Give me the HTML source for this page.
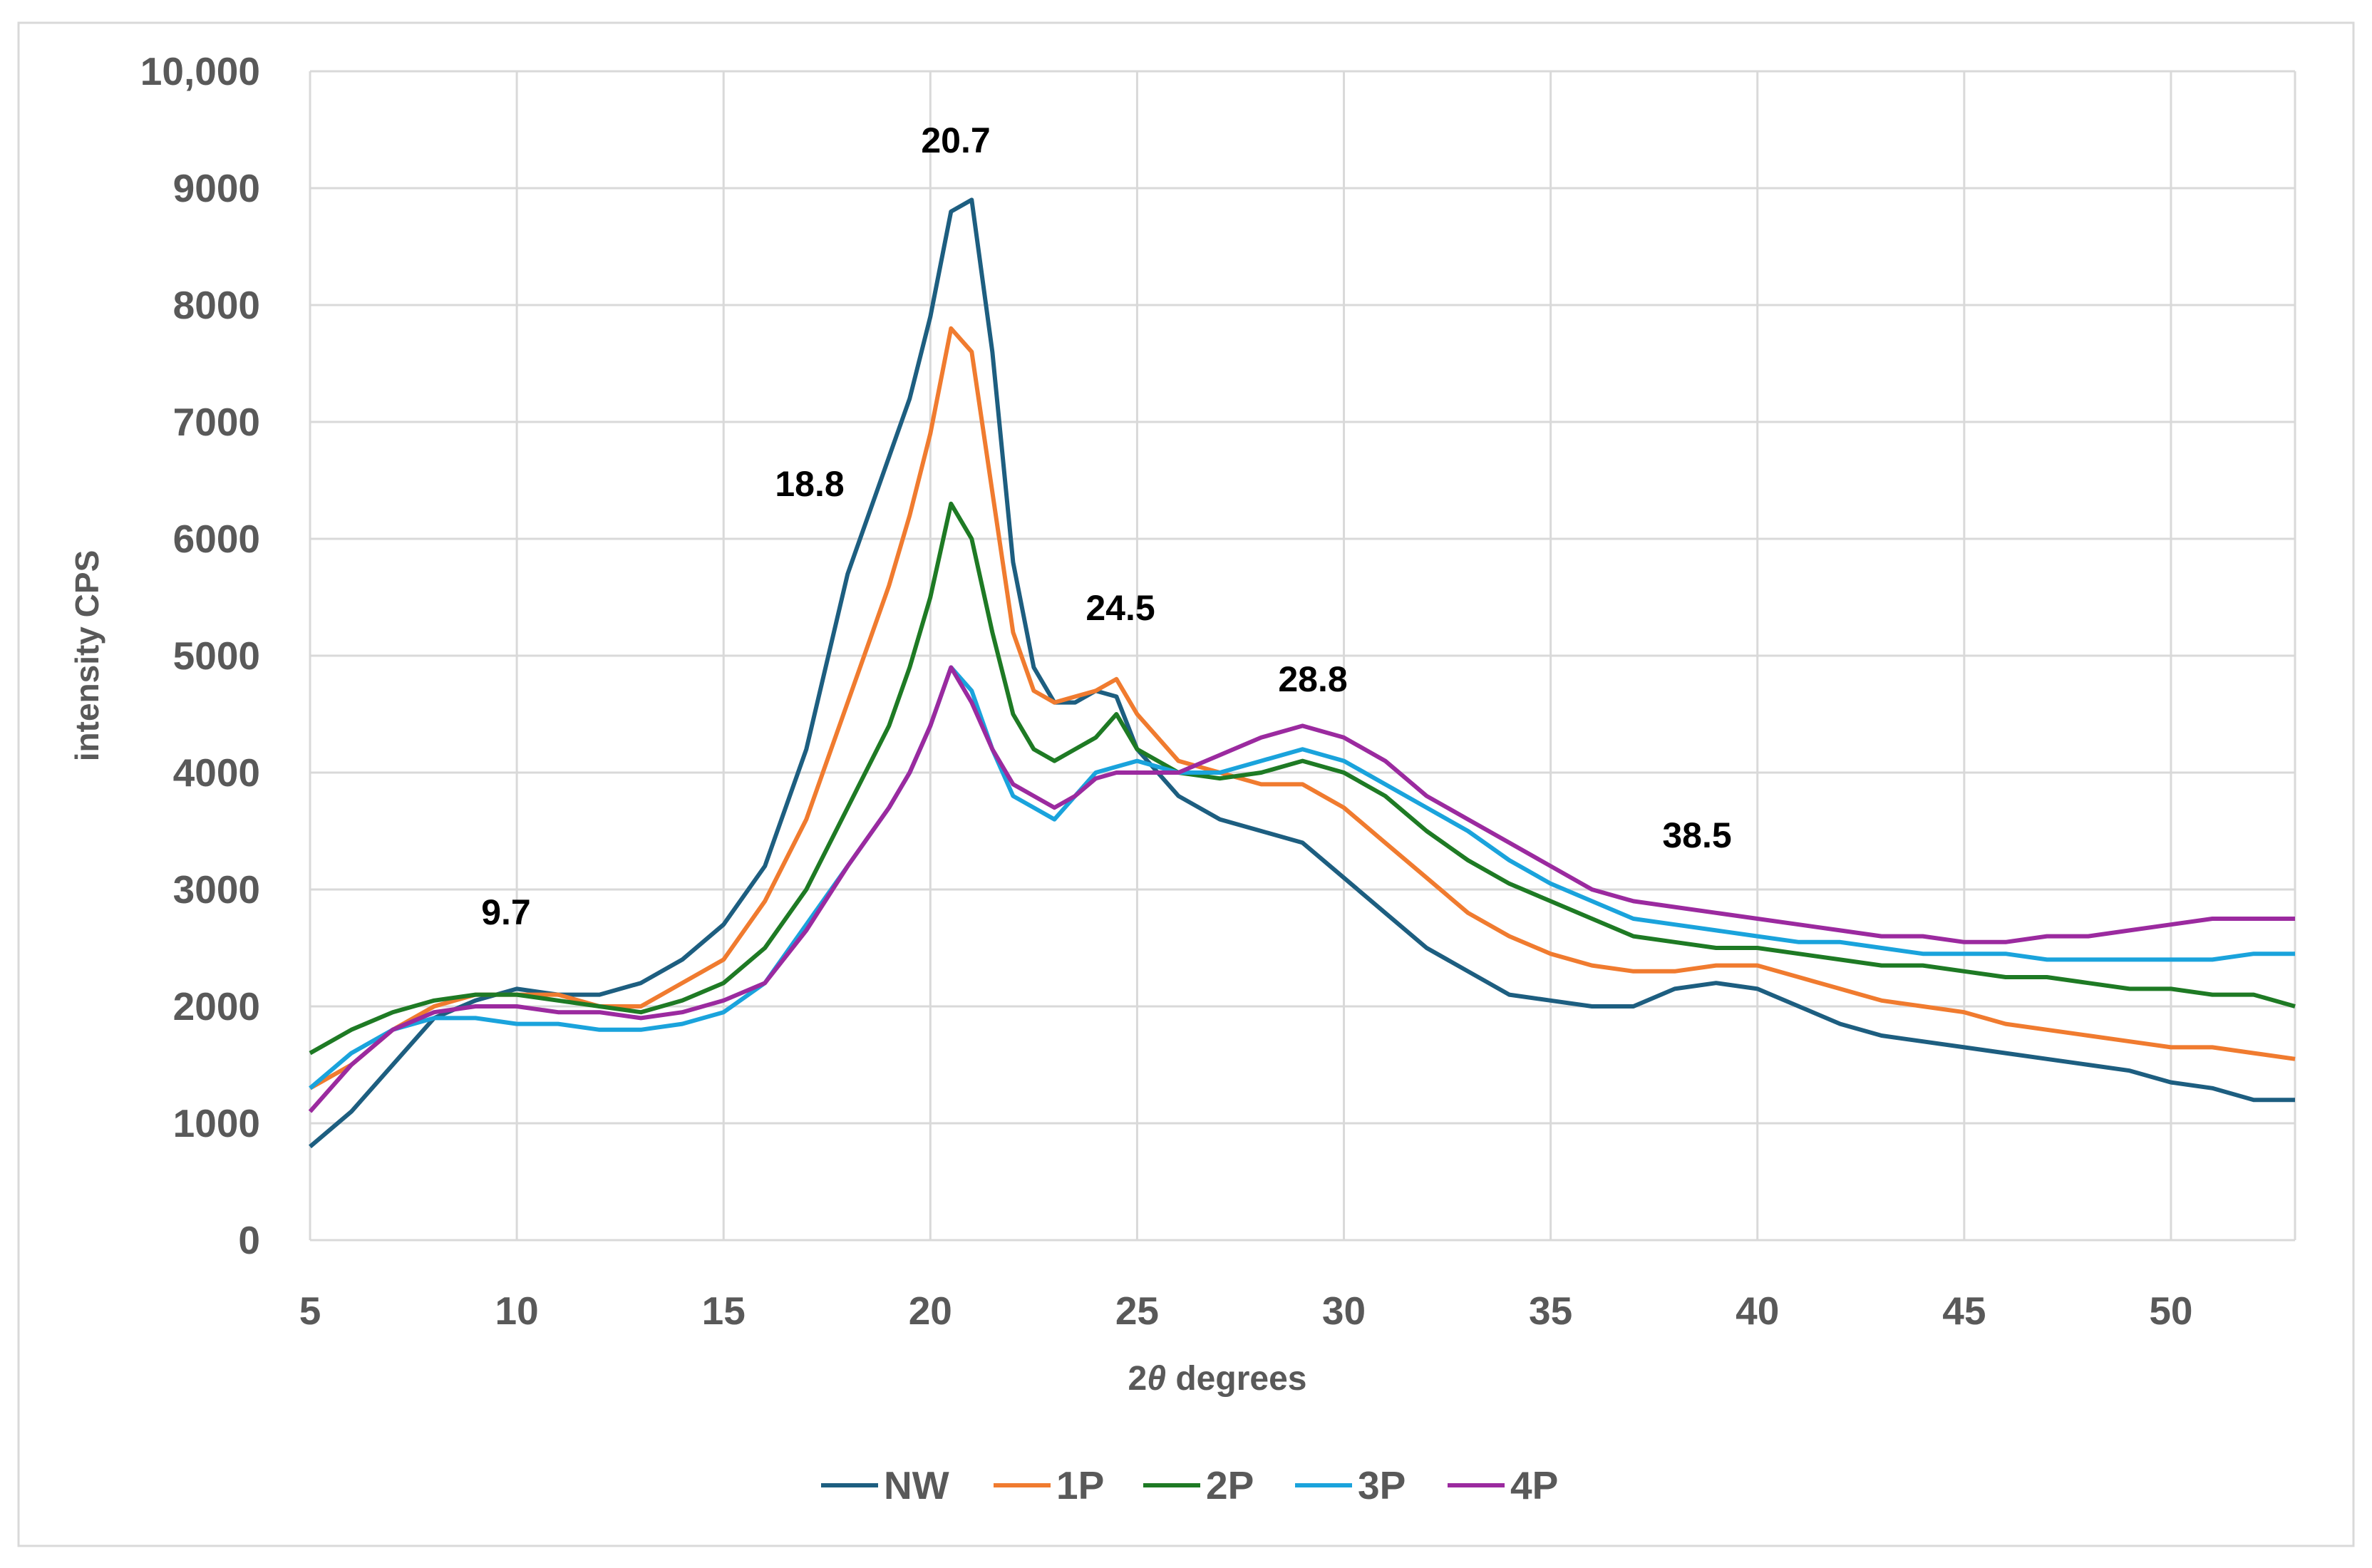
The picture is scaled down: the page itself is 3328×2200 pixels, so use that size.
<!DOCTYPE html>
<html><head><meta charset="utf-8">
<style>
html,body{margin:0;padding:0;background:#fff;}
svg{display:block;font-family:"Liberation Sans",sans-serif;}
</style></head>
<body>
<svg id="chart" width="3328" height="2200" viewBox="0 0 3328 2200" xmlns="http://www.w3.org/2000/svg">
<rect x="26" y="32" width="3276" height="2137" fill="#fff" stroke="#d9d9d9" stroke-width="3"/>
<g id="grid"></g>
<g id="series"></g>
<g id="ticks"></g>
<text x="1708" y="1950" font-size="48" font-weight="bold" fill="#595959" text-anchor="middle">2<tspan font-style="italic">θ</tspan> degrees</text>
<text transform="translate(138,920) rotate(-90)" font-size="46" font-weight="bold" fill="#595959" text-anchor="middle">intensity CPS</text>
<g font-size="50" font-weight="bold" fill="#000" text-anchor="middle">
<text x="1341" y="214">20.7</text>
<text x="1136" y="696">18.8</text>
<text x="1572" y="870">24.5</text>
<text x="1842" y="970">28.8</text>
<text x="710" y="1297">9.7</text>
<text x="2381" y="1189">38.5</text>
</g>
<g id="legend"></g>
</svg>
<script>
const xs = [5,6,7,8,9,10,11,12,13,14,15,16,17,18,19,19.5,20,20.5,21,21.5,22,22.5,23,23.5,24,24.5,25,26,27,28,29,30,31,32,33,34,35,36,37,38,39,40,41,42,43,44,45,46,47,48,49,50,51,52,53];
const seriesNames = ["NW","1P","2P","3P","4P"];
const seriesColors = ["#1d5e80","#f07b2f","#1e7a24","#1aa3dc","#9b2a9f"];
const nwValues = [800,1100,1500,1900,2050,2150,2100,2100,2200,2400,2700,3200,4200,5700,6700,7200,7900,8800,8900,7600,5800,4900,4600,4600,4700,4650,4200,3800,3600,3500,3400,3100,2800,2500,2300,2100,2050,2000,2000,2150,2200,2150,2000,1850,1750,1700,1650,1600,1550,1500,1450,1350,1300,1200,1200];
const p1Values = [1300,1500,1800,2000,2100,2100,2100,2000,2000,2200,2400,2900,3600,4600,5600,6200,6900,7800,7600,6400,5200,4700,4600,4650,4700,4800,4500,4100,4000,3900,3900,3700,3400,3100,2800,2600,2450,2350,2300,2300,2350,2350,2250,2150,2050,2000,1950,1850,1800,1750,1700,1650,1650,1600,1550];
const p2Values = [1600,1800,1950,2050,2100,2100,2050,2000,1950,2050,2200,2500,3000,3700,4400,4900,5500,6300,6000,5200,4500,4200,4100,4200,4300,4500,4200,4000,3950,4000,4100,4000,3800,3500,3250,3050,2900,2750,2600,2550,2500,2500,2450,2400,2350,2350,2300,2250,2250,2200,2150,2150,2100,2100,2000];
const p3Values = [1300,1600,1800,1900,1900,1850,1850,1800,1800,1850,1950,2200,2700,3200,3700,4000,4400,4900,4700,4200,3800,3700,3600,3800,4000,4050,4100,4000,4000,4100,4200,4100,3900,3700,3500,3250,3050,2900,2750,2700,2650,2600,2550,2550,2500,2450,2450,2450,2400,2400,2400,2400,2400,2450,2450];
const p4Values = [1100,1500,1800,1950,2000,2000,1950,1950,1900,1950,2050,2200,2650,3200,3700,4000,4400,4900,4600,4200,3900,3800,3700,3800,3950,4000,4000,4000,4150,4300,4400,4300,4100,3800,3600,3400,3200,3000,2900,2850,2800,2750,2700,2650,2600,2600,2550,2550,2600,2600,2650,2700,2750,2750,2750];
const xTicks = [5,10,15,20,25,30,35,40,45,50];
const yTicks = [0,1000,2000,3000,4000,5000,6000,7000,8000,9000,10000];
const yTickLabels = ["0","1000","2000","3000","4000","5000","6000","7000","8000","9000","10,000"];

const NS="http://www.w3.org/2000/svg";
const L=435,R=3220,T=100,B=1740,XMIN=5,XMAX=53,YMAX=10000;
function sx(v){return L+(v-XMIN)/(XMAX-XMIN)*(R-L);}
function sy(v){return B-v/YMAX*(B-T);}
function mk(tag,attrs,parent){const e=document.createElementNS(NS,tag);for(const k in attrs)e.setAttribute(k,attrs[k]);parent.appendChild(e);return e;}
const grid=document.getElementById('grid'),ticks=document.getElementById('ticks'),sg=document.getElementById('series'),lg=document.getElementById('legend');
yTicks.forEach((v,i)=>{
  const ln=mk('line',{x1:L,x2:R,y1:sy(v),y2:sy(v),stroke:'#d9d9d9','stroke-width':3},grid);
  
  
  const t=mk('text',{x:365,y:sy(v)+19,'font-size':55,'font-weight':'bold',fill:'#595959','text-anchor':'end'},ticks);
  t.textContent=yTickLabels[i];
  
  
});
xTicks.forEach(v=>{
  const ln=mk('line',{x1:sx(v),x2:sx(v),y1:T,y2:B,stroke:'#d9d9d9','stroke-width':3},grid);
  
  
  const t=mk('text',{x:sx(v),y:1858,'font-size':55,'font-weight':'bold',fill:'#595959','text-anchor':'middle'},ticks);
  t.textContent=String(v);
  
  
});
const rl=mk('line',{x1:R,x2:R,y1:T,y2:B,stroke:'#d9d9d9','stroke-width':3},grid);


const all=[nwValues,p1Values,p2Values,p3Values,p4Values];
all.forEach((vals,i)=>{
  const d=vals.map((v,j)=>(j?'L':'M')+sx(xs[j]).toFixed(1)+' '+sy(v).toFixed(1)).join(' ');
  const p=mk('path',{d:d,fill:'none',stroke:seriesColors[i],'stroke-width':6,'stroke-linejoin':'round'},sg);
  
  
});
const legX=[1152,1394,1604,1817,2031];
seriesNames.forEach((n,i)=>{
  const g=mk('g',{},lg);
  
  
  mk('line',{x1:legX[i],x2:legX[i]+80,y1:2084,y2:2084,stroke:seriesColors[i],'stroke-width':6},g);
  const t=mk('text',{x:legX[i]+88,y:2103,'font-size':55,'font-weight':'bold',fill:'#595959'},g);
  t.textContent=n;
});
</script>
</body></html>
